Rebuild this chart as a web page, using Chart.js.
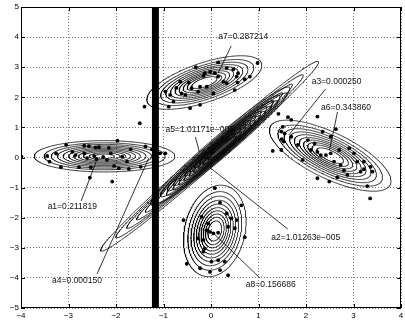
<!DOCTYPE html>
<html>
<head>
<meta charset="utf-8">
<script src="https://cdn.jsdelivr.net/npm/chart.js@4.4.1/dist/chart.umd.min.js"></script>
<style>
  html, body { margin: 0; padding: 0; background: #fff; }
</style>
</head>
<body>
<canvas id="chart" width="405" height="324"></canvas>
<script>
/* Gaussian mixture fit: contour ellipses of each component plus the sample points. */

// components (outer contour half-extents in data units, correlation, number of contours)
// order: a1, a7, a6, a8, vertical (a4), diagonal outer (a3), diagonal narrow a5, a2
const MEAN_X = [-2.24, -0.14, 2.51, 0.08, -1.17, -0.03, 0.195, 0.236];
const MEAN_Y = [0.04, 2.49, 0.06, -2.44, 0.0, 0.04, 0.38, 0.316];
const HALF_X = [1.48, 1.21, 1.28, 0.66, 0.068, 2.295, 1.465, 1.367];
const HALF_Y = [0.52, 0.89, 1.18, 1.52, 40, 3.153, 1.962, 1.830];
const RHO = [0.0, 0.64, -0.71, 0.2, 0.0, 0.991, 0.976, 0.981];
const N_CONTOURS = [11, 10, 10, 10, 11, 5, 11, 10];
// relative size of successive contour levels
const LEVEL_R = [1, 0.86, 0.76, 0.67, 0.59, 0.51, 0.44, 0.37, 0.30, 0.22, 0.14];

// sample points
const PTS_A1 = [[-3.99,0.03],[-3.45,0.05],[-3.40,-0.14],[-3.26,0.13],[-3.16,-0.32],[-3.05,0.42],[-2.92,0.19],
  [-2.85,0.08],[-2.78,-0.32],[-2.67,0.39],[-2.67,0.14],[-2.57,0.38],[-2.55,-0.67],[-2.53,-0.32],[-2.43,0.33],
  [-2.41,-0.06],[-2.27,0.02],[-2.36,0.34],[-2.15,0.32],[-2.11,0.14],[-2.04,-0.28],[-1.97,0.56],[-1.94,-0.36],
  [-1.87,0.03],[-1.77,-0.14],[-1.73,-0.38],[-1.69,0.27],[-1.48,-0.31],[-1.38,0.37],[-1.24,0.27],[-1.07,0.14],
  [-0.96,0.14],[-2.46,0.05],[-2.61,-0.02],[-2.19,-0.08]];
const PTS_A7 = [[-1.40,1.69],[-0.32,3.00],[0.15,3.16],[0.98,3.14],[-0.96,2.19],[-0.86,2.08],[-0.47,2.49],
  [-0.41,2.30],[-0.65,2.52],[-0.13,2.80],[-0.02,2.85],[0.08,2.80],[0.33,2.97],[0.47,2.93],[0.57,2.80],
  [0.71,2.60],[0.56,2.49],[0.33,2.47],[0.15,2.69],[-0.23,2.35],[-0.09,2.35],[-0.62,2.13],[-0.54,2.08],
  [0.05,2.13],[-0.79,1.86],[-0.89,1.69],[-0.44,1.64],[-0.23,1.75],[0.82,2.69],[0.54,2.69],[-0.16,2.71],
  [0.50,2.24],[-0.27,2.19],[0.26,2.52],[-0.73,2.31]];
const PTS_A6 = [[1.42,1.45],[1.62,1.34],[1.69,1.25],[1.51,1.02],[1.48,0.86],[1.55,0.80],[1.49,0.61],
  [1.53,0.53],[1.69,0.69],[1.30,0.22],[1.48,0.25],[2.04,0.58],[2.18,0.47],[2.35,0.86],[2.63,0.94],
  [2.10,0.25],[2.24,0.19],[2.31,0.08],[2.42,0.08],[2.52,0.14],[2.70,0.25],[2.91,0.31],[3.01,0.14],
  [3.08,-0.14],[3.22,-0.14],[3.36,-0.31],[3.40,-0.47],[3.15,-0.47],[2.87,-0.58],[2.66,-0.66],[2.49,-0.80],
  [2.24,-0.69],[2.73,-0.25],[2.59,-0.14],[3.29,-0.95],[3.35,-1.36],[2.24,1.36],[2.52,0.69],[3.22,-0.39],
  [2.80,-0.43],[1.83,0.42],[1.93,-0.08]];
const PTS_A8 = [[0.08,-1.02],[-0.58,-2.08],[0.19,-1.50],[-0.20,-1.97],[-0.06,-2.19],[-0.02,-2.47],[0.05,-2.52],
  [0.15,-2.50],[0.33,-1.86],[0.43,-2.02],[0.54,-2.08],[0.36,-2.30],[0.50,-2.35],[0.71,-2.65],[-0.28,-2.69],
  [-0.13,-3.02],[-0.16,-3.13],[0.01,-3.46],[0.15,-3.41],[-0.23,-3.68],[-0.02,-3.80],[0.19,-3.74],[0.36,-3.91],
  [0.29,-3.46],[0.64,-1.59],[-0.09,-2.42],[-0.51,-3.53],[-0.16,-2.74]];
const PTS_STRAY = [[-1.50,1.14],[-2.08,-0.80]];

// labels: text, text anchor, leader line from -> to
const LABELS = [
  { text: "a7=0.287214", at: [0.153, 4.016], from: [0.425, 3.707], to: [0.153, 2.81] },
  { text: "a3=0.000250", at: [2.119, 2.52], from: [2.412, 2.277], to: [1.638, 0.748] },
  { text: "a6=0.343860", at: [2.318, 1.656], from: [2.663, 1.513], to: [2.496, 0.249] },
  { text: "a5=1.01171e\u2212005", at: [-0.956, 0.914], from: [-0.328, 0.682], to: [-0.245, 0.183] },
  { text: "a1=0.211819", at: [-3.439, -1.622], from: [-2.734, -1.446], to: [-2.421, -0.15] },
  { text: "a4=0.000150", at: [-3.347, -4.082], from: [-2.40, -3.873], to: [-1.31, -0.02] },
  { text: "a2=1.01263e\u2212005", at: [1.268, -2.676], from: [1.617, -2.377], to: [-0.036, -0.316] },
  { text: "a8=0.156686", at: [0.732, -4.215], from: [1.031, -4.006], to: [0.069, -2.543] },
];

const FONT = '"Liberation Sans", Arial, Helvetica, sans-serif';

function contour(i, r) {
  const pts = [];
  const s = Math.sqrt(1 - RHO[i] * RHO[i]);
  const steps = 360;
  for (let k = 0; k <= steps; k++) {
    const t = (k / steps) * 2 * Math.PI;
    pts.push({
      x: MEAN_X[i] + r * HALF_X[i] * Math.cos(t),
      y: MEAN_Y[i] + r * HALF_Y[i] * (RHO[i] * Math.cos(t) + s * Math.sin(t)),
    });
  }
  return pts;
}

const datasets = [];
for (let i = 0; i < MEAN_X.length; i++) {
  for (let j = 0; j < N_CONTOURS[i]; j++) {
    datasets.push({
      data: contour(i, LEVEL_R[j]),
      showLine: true, pointRadius: 0, borderColor: "#000", borderWidth: 0.8, tension: 0,
    });
  }
}
const allPts = [...PTS_A1, ...PTS_A7, ...PTS_A6, ...PTS_A8, ...PTS_STRAY].map((p) => ({ x: p[0], y: p[1] }));
datasets.push({ data: allPts, showLine: false, pointRadius: 1.9, pointBackgroundColor: "#000", pointBorderWidth: 0 });

function fmt(v) { return v < 0 ? "\u2212" + Math.abs(v) : String(v); }

const annotate = {
  id: "annotate",
  beforeDatasetsDraw(chart) {
    const { ctx, scales: { x, y } } = chart;
    ctx.save();
    ctx.strokeStyle = "#000";
    ctx.lineWidth = 0.8;
    ctx.fillStyle = "#111";
    ctx.font = "8.5px " + FONT;
    ctx.textBaseline = "middle";
    for (const l of LABELS) {
      ctx.beginPath();
      ctx.moveTo(x.getPixelForValue(l.from[0]), y.getPixelForValue(l.from[1]));
      ctx.lineTo(x.getPixelForValue(l.to[0]), y.getPixelForValue(l.to[1]));
      ctx.stroke();
      ctx.fillText(l.text, x.getPixelForValue(l.at[0]), y.getPixelForValue(l.at[1]));
    }
    ctx.restore();
  },
  afterDraw(chart) {
    const { ctx, chartArea: a, scales: { x, y } } = chart;
    ctx.save();
    ctx.strokeStyle = "#000";
    ctx.lineWidth = 1;
    ctx.strokeRect(a.left + 0.5, a.top + 0.5, a.right - a.left - 1, a.bottom - a.top - 1);
    ctx.beginPath();
    for (let v = -4; v <= 4; v++) {
      const px = Math.round(x.getPixelForValue(v)) + 0.5;
      ctx.moveTo(px, a.bottom); ctx.lineTo(px, a.bottom - 4);
      ctx.moveTo(px, a.top); ctx.lineTo(px, a.top + 4);
    }
    for (let v = -5; v <= 5; v++) {
      const py = Math.round(y.getPixelForValue(v)) + 0.5;
      ctx.moveTo(a.left, py); ctx.lineTo(a.left + 4, py);
      ctx.moveTo(a.right, py); ctx.lineTo(a.right - 4, py);
    }
    ctx.stroke();
    ctx.restore();
  },
};

new Chart(document.getElementById("chart"), {
  type: "scatter",
  data: { datasets },
  options: {
    responsive: false, animation: false, devicePixelRatio: 1,
    layout: { padding: { top: 7, right: 2, left: 0, bottom: 0 } },
    plugins: { legend: { display: false }, tooltip: { enabled: false } },
    scales: {
      x: {
        type: "linear", min: -4, max: 4,
        ticks: { stepSize: 1, autoSkip: false, maxRotation: 0, padding: 3, color: "#000", font: { family: FONT, size: 8 }, callback: fmt },
        grid: { color: "#777", lineWidth: 1, drawTicks: false },
        border: { display: false, dash: [1, 2] },
        afterFit(s) { s.height = 16; s.paddingLeft = 0; s.paddingRight = 0; },
      },
      y: {
        type: "linear", min: -5, max: 5,
        ticks: { stepSize: 1, autoSkip: false, padding: 2, color: "#000", font: { family: FONT, size: 8 }, callback: fmt },
        grid: { color: "#777", lineWidth: 1, drawTicks: false },
        border: { display: false, dash: [1, 2] },
        afterFit(s) { s.width = 21; s.paddingTop = 0; s.paddingBottom = 0; },
      },
    },
  },
  plugins: [annotate],
});
</script>
</body>
</html>
